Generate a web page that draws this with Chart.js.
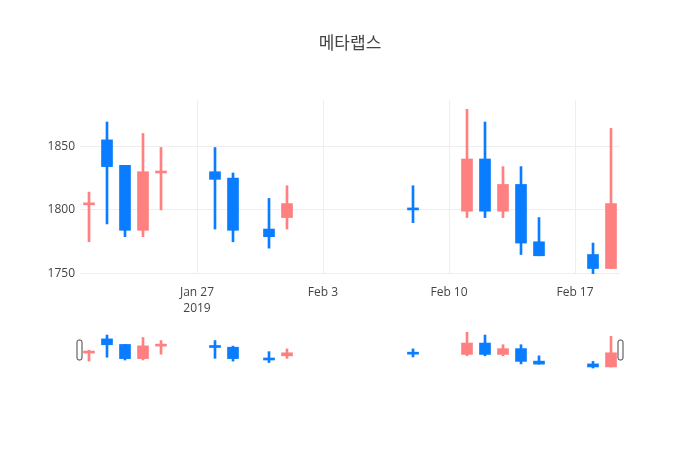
<!DOCTYPE html>
<html>
<head>
<meta charset="utf-8">
<script src="https://cdn.jsdelivr.net/npm/chart.js@4"></script>
<style>
  body { margin: 0; background: #fff; }
  #wrap { position: relative; width: 700px; height: 450px; }
  #wrap canvas { position: absolute; left: 0; top: 0; }
</style>
</head>
<body>
<div id="wrap">
  <canvas id="mainChart" width="700" height="450"></canvas>
  <canvas id="sliderChart" width="700" height="450"></canvas>
</div>
<script>
// 데이터
const dates = ['2019-01-21', '2019-01-22', '2019-01-23', '2019-01-24', '2019-01-25',
    '2019-01-28', '2019-01-29', '2019-01-31', '2019-02-01', '2019-02-08',
    '2019-02-11', '2019-02-12', '2019-02-13', '2019-02-14', '2019-02-15',
    '2019-02-18', '2019-02-19'];
const opens  = [1804, 1855, 1835, 1784, 1829, 1830, 1825, 1785, 1794, 1801, 1799, 1840, 1799, 1820, 1775, 1765, 1754];
const highs  = [1814, 1869, 1835, 1860, 1849, 1849, 1829, 1809, 1819, 1819, 1879, 1869, 1834, 1834, 1794, 1774, 1864];
const lows   = [1775, 1789, 1779, 1779, 1800, 1785, 1775, 1770, 1785, 1790, 1794, 1794, 1794, 1765, 1764, 1750, 1754];
const closes = [1805, 1834, 1784, 1830, 1830, 1824, 1784, 1779, 1805, 1800, 1840, 1799, 1820, 1774, 1764, 1754, 1805];

const tickDates  = ['2019-01-27', '2019-02-03', '2019-02-10', '2019-02-17'];
const tickLabels = [['Jan 27', '2019'], 'Feb 3', 'Feb 10', 'Feb 17'];
const yTicks = [1750, 1800, 1850];

const upColor = '#ff8080';
const downColor = '#0a7cff';
const baseDate = Date.parse('2019-01-27');

function dayOf(d) {
    return Math.round((Date.parse(d) - baseDate) / 86400000);
}

const days = dates.map(dayOf);
const tickDays = tickDates.map(dayOf);
const colors = opens.map((o, i) => closes[i] >= o ? upColor : downColor);

function candleDatasets() {
    return [
        {
            // 심지
            data: days.map((d, i) => ({ x: d, y: [lows[i], highs[i]] })),
            backgroundColor: colors,
            barThickness: 2,
            grouped: false,
            order: 2
        },
        {
            // 몸통
            data: days.map((d, i) => ({ x: d, y: [opens[i], closes[i]] })),
            backgroundColor: colors,
            barThickness: 11,
            minBarLength: 2,
            grouped: false,
            order: 1
        }
    ];
}

const xMin = days[0] - 0.5;
const xMax = days[days.length - 1] + 0.5;

// 메인 차트
new Chart(document.getElementById('mainChart'), {
    type: 'bar',
    data: { datasets: candleDatasets() },
    options: {
        responsive: false,
        animation: false,
        events: [],
        layout: { padding: { left: 0, right: 80, top: 100, bottom: 136 } },
        plugins: {
            legend: { display: false },
            tooltip: { enabled: false }
        },
        scales: {
            x: {
                type: 'linear',
                min: xMin,
                max: xMax,
                offset: false,
                afterBuildTicks: scale => { scale.ticks = tickDays.map(v => ({ value: v })); },
                afterFit: scale => { scale.height = 40; },
                ticks: {
                    color: '#444',
                    font: { family: '"Open Sans", sans-serif', size: 12, lineHeight: 1.35 },
                    padding: 10,
                    maxRotation: 0,
                    autoSkip: false,
                    callback: v => tickLabels[tickDays.indexOf(v)]
                },
                grid: { color: '#eee', drawTicks: false, offset: false },
                border: { display: false }
            },
            y: {
                min: 1749.7,
                max: 1886.3,
                afterBuildTicks: scale => { scale.ticks = yTicks.map(v => ({ value: v })); },
                afterFit: scale => { scale.width = 80; },
                ticks: {
                    color: '#444',
                    font: { family: '"Open Sans", sans-serif', size: 12 },
                    padding: 5,
                    autoSkip: false,
                    callback: v => String(v)
                },
                grid: { color: '#eee', drawTicks: false },
                border: { display: false }
            }
        }
    }
});

// 레인지 슬라이더 손잡이
const grips = {
    id: 'grips',
    afterDraw(chart) {
        const { ctx, chartArea } = chart;
        const cy = (chartArea.top + chartArea.bottom) / 2;
        [chartArea.left - 0.5, chartArea.right + 0.5].forEach(x => {
            ctx.save();
            ctx.beginPath();
            ctx.roundRect(x - 2.5, cy - 10, 5, 20, 2);
            ctx.fillStyle = '#fff';
            ctx.fill();
            ctx.strokeStyle = '#444';
            ctx.lineWidth = 1;
            ctx.stroke();
            ctx.restore();
        });
    }
};

// 레인지 슬라이더 (제목 포함)
new Chart(document.getElementById('sliderChart'), {
    type: 'bar',
    data: { datasets: candleDatasets() },
    plugins: [grips],
    options: {
        responsive: false,
        animation: false,
        events: [],
        layout: { padding: { left: 80, right: 80, top: 0, bottom: 80 } },
        plugins: {
            legend: { display: false },
            tooltip: { enabled: false },
            title: {
                display: true,
                text: '메타랩스',
                color: '#444',
                font: { family: '"Open Sans", "Noto Sans CJK KR", sans-serif', size: 17, weight: 'normal' },
                padding: { top: 34, bottom: 275.6 }
            }
        },
        scales: {
            x: { type: 'linear', min: xMin, max: xMax, offset: false, display: false },
            y: { min: 1743, max: 1887, display: false }
        }
    }
});
</script>
</body>
</html>
